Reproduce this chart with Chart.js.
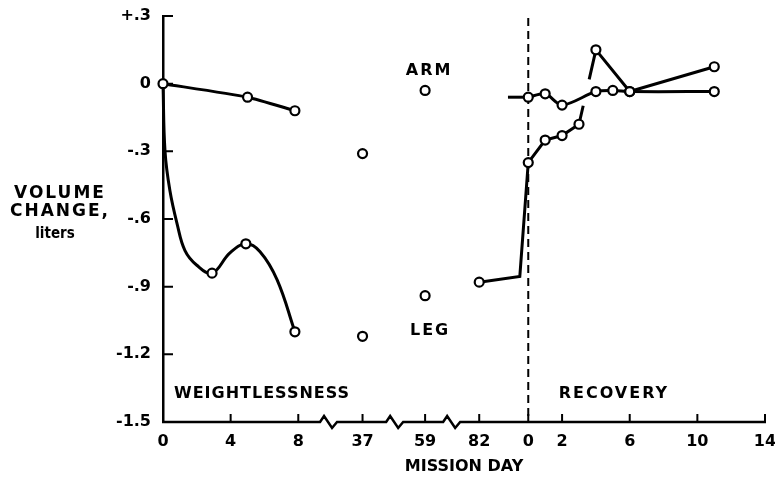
<!DOCTYPE html>
<html>
<head>
<meta charset="utf-8">
<title>Volume change, arm and leg</title>
<script src="https://cdn.jsdelivr.net/npm/chart.js@4.4.1/dist/chart.umd.min.js"></script>
<style>
  html, body { margin: 0; padding: 0; background: #fff; }
  #wrap { width: 775px; height: 481px; }
</style>
</head>
<body>
<div id="wrap"><canvas id="chartVolume"></canvas></div>
<script>
// ── Data (liters) ──
const armFlightDays = [0, 5, 7.8];
const armFlight     = [0, -0.06, -0.12];

const legFlightDays = [2.9, 4.9, 7.8];
const legFlight     = [-0.84, -0.71, -1.10];

// hand-drawn leg curve
const legCurveDays = [0, 0.12, 0.41, 0.83, 1.3, 2.0, 2.9, 3.96, 4.9, 5.74, 6.75, 7.8];
const legCurve     = [0, -0.30, -0.475, -0.62, -0.74, -0.805, -0.84, -0.75, -0.71, -0.745, -0.87, -1.10];

const lateDays = [37, 59, 82];
const armLate  = [-0.31, -0.03, null];
const legLate  = [-1.12, -0.94, -0.88];

// leg: day 82 -> corner just before recovery -> recovery day 0
const legReturn = [-0.88, -0.855, -0.35];

const armLeadDays = [-1.2, 0];
const armLead     = [-0.06, -0.06];

const armRecDays = [0, 1, 2, 4, 5, 6, 11];
const armRec     = [-0.06, -0.045, -0.095, -0.035, -0.03, -0.035, -0.035];

const legRecDays = [0, 1, 2, 3, 4, 6, 11];
const legRec     = [-0.35, -0.25, -0.23, -0.18, 0.15, -0.035, 0.075];

// tick labels
const flightTicks = [0, 4, 8, 37, 59, 82];
const recTicks    = [0, 2, 6, 10, 14];
const yTicks      = [0.3, 0, -0.3, -0.6, -0.9, -1.2, -1.5];

// ── Broken x axis: mission days -> axis units ──
const REC0 = 21.6;                       // where recovery day 0 sits
const lateSlot = { 37: 11.8, 59: 15.5, 82: 18.7 };
const breaks = [9.76, 13.67, 17.04];
const flightX = d => (d <= 8 ? d : lateSlot[d]);
const recX = d => REC0 + d;

const xTickPos = flightTicks.map(flightX).concat(recTicks.map(recX));
const xTickLabels = flightTicks.concat(recTicks).map(String);

const INK = '#000';
const FONT = "'DejaVu Sans', sans-serif";

function pts(days, vals, fx) {
  return days.map((d, i) => ({ x: fx(d), y: vals[i] })).filter(p => p.y !== null);
}

function fmtY(v) {
  if (Math.abs(v) < 1e-9) return '0';
  return (v > 0 ? '+' : '-') + Math.abs(v).toFixed(1).replace(/^0/, '');
}

// ── Axis line with breaks, inward ticks, dashed recovery line, labels ──
const annotate = {
  id: 'annotate',
  beforeDatasetsDraw(chart) {
    const { ctx, chartArea: a, scales: { x, y } } = chart;
    ctx.save();
    ctx.strokeStyle = INK;
    ctx.lineWidth = 2.5;
    ctx.lineJoin = 'miter';

    const yb = a.bottom;
    ctx.beginPath();
    ctx.moveTo(a.left - 1, yb);
    breaks.forEach(b => {
      const bx = x.getPixelForValue(b);
      ctx.lineTo(bx - 8, yb);
      ctx.lineTo(bx - 4, yb - 6);
      ctx.lineTo(bx + 4, yb + 6);
      ctx.lineTo(bx + 9, yb);
    });
    ctx.lineTo(a.right + 1, yb);
    ctx.stroke();

    ctx.lineWidth = 2;
    ctx.beginPath();
    xTickPos.forEach(v => {
      const px = x.getPixelForValue(v);
      ctx.moveTo(px, yb);
      ctx.lineTo(px, yb - 8);
    });
    yTicks.forEach(v => {
      const py = y.getPixelForValue(v);
      ctx.moveTo(a.left, py);
      ctx.lineTo(a.left + 10, py);
    });
    ctx.stroke();

    // recovery day 0
    const dx = x.getPixelForValue(recX(0));
    ctx.setLineDash([8, 5]);
    ctx.beginPath();
    ctx.moveTo(dx, a.top + 2);
    ctx.lineTo(dx, yb);
    ctx.stroke();
    ctx.restore();
  },
  afterDraw(chart) {
    const { ctx, scales: { x, y } } = chart;
    ctx.save();
    ctx.fillStyle = INK;
    ctx.textBaseline = 'middle';

    ctx.font = `bold 16px ${FONT}`;
    ctx.letterSpacing = '1px';
    ctx.textAlign = 'left';
    ctx.fillText('WEIGHTLESSNESS', x.getPixelForValue(0.65), y.getPixelForValue(-1.375));
    ctx.letterSpacing = '2px';
    ctx.fillText('RECOVERY', x.getPixelForValue(recX(1.8)), y.getPixelForValue(-1.375));

    ctx.textAlign = 'center';
    ctx.fillText('ARM', x.getPixelForValue(flightX(59)) + 4, y.getPixelForValue(0.056));
    ctx.fillText('LEG', x.getPixelForValue(flightX(59)) + 5, y.getPixelForValue(-1.095));

    ctx.font = `bold 17px ${FONT}`;
    ctx.fillText('VOLUME', 60, 194);
    ctx.fillText('CHANGE,', 60, 212);
    ctx.font = "bold 15px 'DejaVu Sans Condensed', 'Liberation Sans Narrow', sans-serif";
    ctx.letterSpacing = '0px';
    ctx.fillText('liters', 55, 234);
    ctx.restore();
  }
};

const lineBase = {
  borderColor: INK,
  borderWidth: 3,
  pointRadius: 4.5,
  pointBorderWidth: 2.2,
  pointBackgroundColor: '#fff',
  pointBorderColor: INK,
  fill: false,
  clip: false,
};

new Chart(document.getElementById('chartVolume'), {
  type: 'line',
  data: {
    datasets: [
      { ...lineBase, order: 1, data: pts(armFlightDays, armFlight, flightX), tension: 0.2 },
      { ...lineBase, order: 3, data: pts(legCurveDays, legCurve, flightX), tension: 0.4, pointRadius: 0 },
      { ...lineBase, order: 0, data: pts(legFlightDays, legFlight, flightX), showLine: false },
      { ...lineBase, order: 0, data: pts(lateDays, armLate, flightX), showLine: false },
      { ...lineBase, order: 0, data: pts(lateDays, legLate, flightX), showLine: false },
      { ...lineBase, order: 3, pointRadius: 0, tension: 0,
        data: [{ x: flightX(82), y: legReturn[0] }, { x: recX(-0.5), y: legReturn[1] }, { x: recX(0), y: legReturn[2] }] },
      { ...lineBase, order: 3, pointRadius: 0, data: pts(armLeadDays, armLead, recX) },
      { ...lineBase, order: 1, data: pts(armRecDays, armRec, recX), tension: 0.3 },
      { ...lineBase, order: 0, data: pts(legRecDays, legRec, recX), tension: 0,
        segment: { borderDash: c => (c.p0DataIndex === 3 ? [19, 27, 200] : undefined) } },
    ]
  },
  options: {
    responsive: true,
    maintainAspectRatio: false,
    animation: false,
    layout: { padding: { top: 16, right: 10, left: 0, bottom: 0 } },
    plugins: { legend: { display: false }, tooltip: { enabled: false } },
    scales: {
      x: {
        type: 'linear',
        min: 0,
        max: recX(14),
        border: { display: false },
        grid: { display: false, drawTicks: false },
        afterBuildTicks: s => { s.ticks = xTickPos.map(v => ({ value: v })); },
        afterFit: s => { s.height = 59; s.paddingLeft = 0; s.paddingRight = 0; },
        ticks: {
          autoSkip: false, maxRotation: 0, padding: 10, color: INK,
          font: { family: FONT, size: 16, weight: 'bold' },
          callback: (v, i) => xTickLabels[i]
        },
        title: {
          display: true, text: 'MISSION DAY', color: INK,
          font: { family: FONT, size: 16, weight: 'bold' },
          padding: { top: 0, bottom: 5 }
        }
      },
      y: {
        min: -1.5,
        max: 0.3,
        border: { display: true, color: INK, width: 2.5 },
        grid: { display: false, drawTicks: false },
        afterBuildTicks: s => { s.ticks = yTicks.map(v => ({ value: v })); },
        afterFit: s => { s.width = 163; s.paddingTop = 0; s.paddingBottom = 0; },
        ticks: {
          padding: 12, color: INK,
          font: { family: FONT, size: 16, weight: 'bold' },
          callback: v => fmtY(v)
        }
      }
    }
  },
  plugins: [annotate]
});
</script>
</body>
</html>
